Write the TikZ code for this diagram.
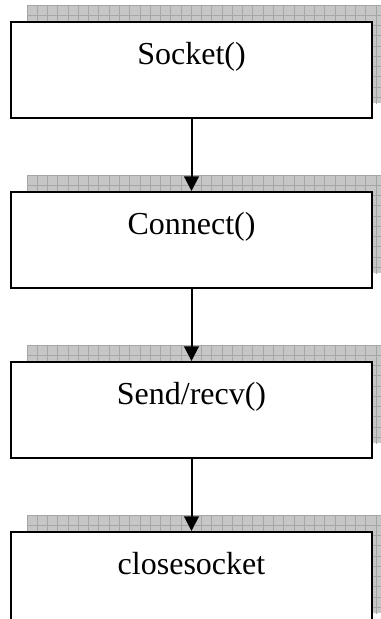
\documentclass[tikz,border=0pt]{standalone}
\usepackage{fontspec}
\setmainfont{Liberation Serif}
\usetikzlibrary{arrows.meta}
\usetikzlibrary{positioning}
\usetikzlibrary{backgrounds}

\begin{document}
\begin{tikzpicture}[
    >={Triangle[width=11pt,length=11pt]},
    every node/.style={font=\fontsize{24}{28}\selectfont},
    line width=1.5pt,
    callbox/.style={draw, fill=white, inner sep=0pt,
        text width=270.75pt, align=center,
        text height=31.5pt, text depth=40.5pt},
    node distance=54pt
]

\def\Dx{12.75pt}
\def\Dy{12pt}
\def\Step{7.7pt}

\useasboundingbox (0,0) rectangle (285pt,-464.25pt);

\node[callbox, anchor=north west] (socket) at (7.5pt,-15.75pt) {Socket()};
\node[callbox, below=of socket] (connect) {Connect()};
\node[callbox, below=of connect] (sendrecv) {Send/recv()};
\node[callbox, below=of sendrecv] (closesock) {closesocket};

\draw[->] (socket) -- (connect);
\draw[->] (connect) -- (sendrecv);
\draw[->] (sendrecv) -- (closesock);

% Shadows behind the boxes
\begin{scope}[on background layer]
\foreach \n in {socket,connect,sendrecv,closesock}{
  \begin{scope}
    \clip ([xshift=\Dx,yshift=\Dy]\n.south west)
          rectangle ([xshift=\Dx,yshift=\Dy]\n.north east);
    \fill[gray!45] ([xshift=\Dx,yshift=\Dy]\n.south west)
          rectangle ([xshift=\Dx,yshift=\Dy]\n.north east);
    \draw[black!35, line width=0.6pt, step=\Step,
          shift={([xshift=\Dx,yshift=\Dy]\n.north west)}]
          (0,0) grid (300pt,-90pt);
  \end{scope}
}
\end{scope}

\end{tikzpicture}
\end{document}
